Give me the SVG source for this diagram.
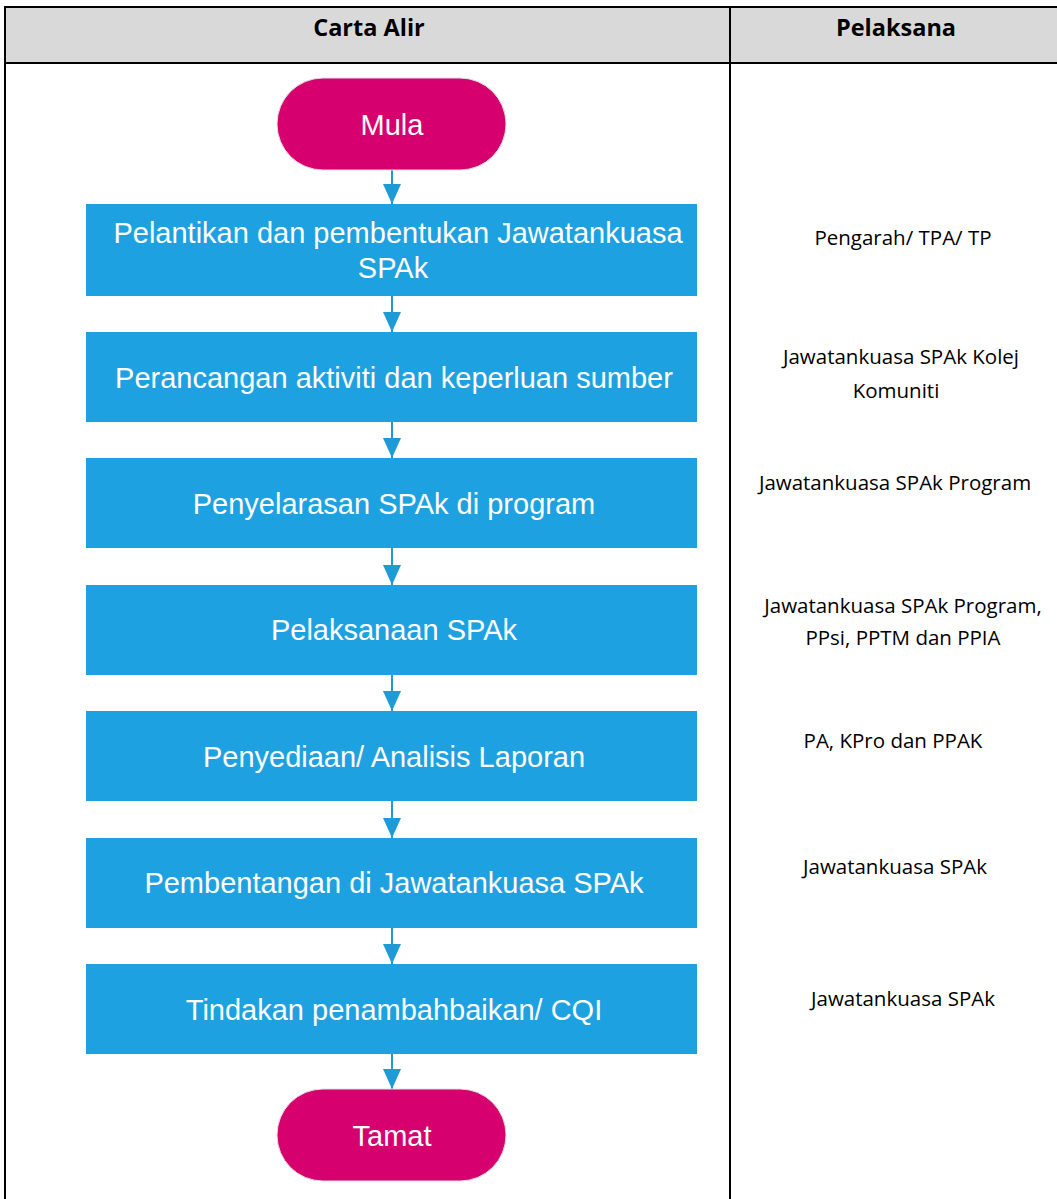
<svg xmlns="http://www.w3.org/2000/svg" width="1057" height="1199" viewBox="0 0 1057 1199">
<style>
.hdr{font-family:"Open Sans","Liberation Sans",sans-serif;font-weight:bold;font-size:23.5px;fill:#000;text-anchor:middle}
.who{font-family:"Open Sans","Liberation Sans",sans-serif;font-size:20.5px;fill:#000;text-anchor:middle}
.box{fill:#1ea1e0}
.term{fill:#d6006f;stroke:#e0e0e0;stroke-width:1}
.lbl{font-family:"Liberation Sans",Arial,sans-serif;font-size:29px;fill:#fff;text-anchor:middle}
.conn{stroke:#1e9ad6;stroke-width:2;fill:none}
</style>
<defs>
<marker id="ah" markerWidth="20" markerHeight="18" refX="20" refY="9" orient="auto" markerUnits="userSpaceOnUse" viewBox="0 0 20 18">
<path d="M0,0 L20,9 L0,18 Z" fill="#1e9ad6"/>
</marker>
</defs>
<rect x="0" y="0" width="1057" height="1199" fill="#fff"/>
<g id="table">
<rect x="5" y="7" width="1060" height="56" fill="#d9d9d9"/>
<rect x="5" y="7" width="1060" height="1200" fill="none" stroke="#000" stroke-width="2"/>
<line x1="5" y1="63" x2="1057" y2="63" stroke="#000" stroke-width="2"/>
<line x1="730" y1="7" x2="730" y2="1199" stroke="#000" stroke-width="2"/>
<text class="hdr" x="369" y="36">Carta Alir</text>
<text class="hdr" x="896" y="36">Pelaksana</text>
</g>
<g id="connectors">
<line class="conn" x1="392" y1="170" x2="392" y2="204" marker-end="url(#ah)"/>
<line class="conn" x1="392" y1="296" x2="392" y2="332" marker-end="url(#ah)"/>
<line class="conn" x1="392" y1="422" x2="392" y2="458" marker-end="url(#ah)"/>
<line class="conn" x1="392" y1="548" x2="392" y2="585" marker-end="url(#ah)"/>
<line class="conn" x1="392" y1="675" x2="392" y2="711" marker-end="url(#ah)"/>
<line class="conn" x1="392" y1="801" x2="392" y2="838" marker-end="url(#ah)"/>
<line class="conn" x1="392" y1="928" x2="392" y2="964" marker-end="url(#ah)"/>
<line class="conn" x1="392" y1="1054" x2="392" y2="1089" marker-end="url(#ah)"/>
</g>
<g id="mula"><rect class="term" x="277" y="78" width="229" height="92" rx="46"/><text class="lbl" x="392" y="135">Mula</text></g>
<g id="n1"><rect class="box" x="86" y="204" width="611" height="92"/><text class="lbl" x="398" y="243">Pelantikan dan pembentukan Jawatankuasa</text><text class="lbl" x="393" y="278">SPAk</text></g>
<g id="n2"><rect class="box" x="86" y="332" width="611" height="90"/><text class="lbl" x="394" y="388">Perancangan aktiviti dan keperluan sumber</text></g>
<g id="n3"><rect class="box" x="86" y="458" width="611" height="90"/><text class="lbl" x="394" y="514">Penyelarasan SPAk di program</text></g>
<g id="n4"><rect class="box" x="86" y="585" width="611" height="90"/><text class="lbl" x="394" y="640">Pelaksanaan SPAk</text></g>
<g id="n5"><rect class="box" x="86" y="711" width="611" height="90"/><text class="lbl" x="394" y="767">Penyediaan/ Analisis Laporan</text></g>
<g id="n6"><rect class="box" x="86" y="838" width="611" height="90"/><text class="lbl" x="394" y="893">Pembentangan di Jawatankuasa SPAk</text></g>
<g id="n7"><rect class="box" x="86" y="964" width="611" height="90"/><text class="lbl" x="394" y="1020">Tindakan penambahbaikan/ CQI</text></g>
<g id="tamat"><rect class="term" x="277" y="1089" width="229" height="92" rx="46"/><text class="lbl" x="392" y="1146">Tamat</text></g>
<g id="pelaksana">
<text class="who" x="903" y="245">Pengarah/ TPA/ TP</text>
<text class="who" x="901" y="364">Jawatankuasa SPAk Kolej</text>
<text class="who" x="896" y="398">Komuniti</text>
<text class="who" x="895" y="490">Jawatankuasa SPAk Program</text>
<text class="who" x="903" y="613">Jawatankuasa SPAk Program,</text>
<text class="who" x="903" y="645">PPsi, PPTM dan PPIA</text>
<text class="who" x="893" y="748">PA, KPro dan PPAK</text>
<text class="who" x="895" y="874">Jawatankuasa SPAk</text>
<text class="who" x="903" y="1006">Jawatankuasa SPAk</text>
</g>
</svg>
